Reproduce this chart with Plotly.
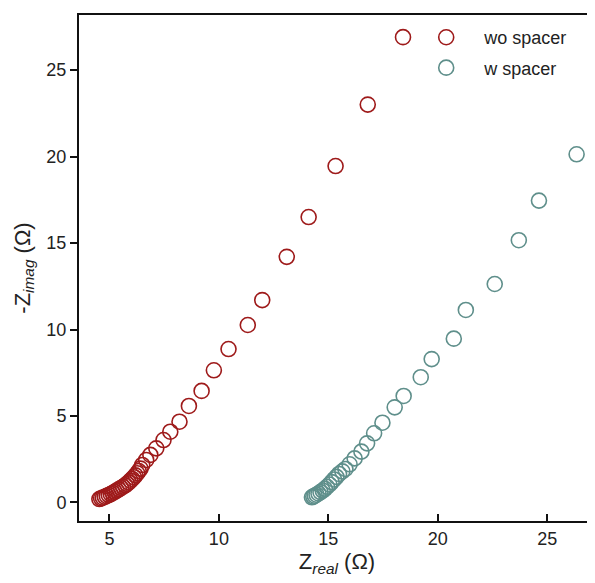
import plotly.graph_objs as go

# wo spacer (red)
wo_real = [4.54, 4.62, 4.70, 4.79, 4.88, 4.97, 5.06, 5.15, 5.24, 5.33, 5.43, 5.53, 5.62,
           5.72, 5.80, 5.88, 5.96, 6.04, 6.12, 6.19, 6.27, 6.34, 6.42, 6.50, 6.68, 6.87,
           7.14, 7.47, 7.78, 8.20, 8.63, 9.21, 9.77, 10.44, 11.32, 11.98, 13.10, 14.10,
           15.33, 16.80, 18.41]
wo_imag = [0.20, 0.24, 0.28, 0.33, 0.38, 0.43, 0.49, 0.55, 0.62, 0.69, 0.76, 0.84, 0.91,
           0.99, 1.07, 1.16, 1.26, 1.36, 1.46, 1.57, 1.69, 1.82, 1.96, 2.17, 2.46, 2.75,
           3.13, 3.61, 4.09, 4.67, 5.58, 6.45, 7.64, 8.87, 10.26, 11.70, 14.20, 16.50,
           19.45, 23.00, 26.90]

# w spacer (teal)
w_real = [14.25, 14.31, 14.38, 14.46, 14.55, 14.64, 14.74, 14.84, 14.94, 15.05, 15.15,
          15.26, 15.37, 15.49, 15.64, 15.78, 15.97, 16.20, 16.51, 16.77, 17.09, 17.47,
          18.03, 18.44, 19.22, 19.72, 20.73, 21.28, 22.60, 23.70, 24.62, 26.34]
w_imag = [0.30, 0.34, 0.39, 0.45, 0.52, 0.60, 0.69, 0.79, 0.91, 1.04, 1.18, 1.33, 1.48,
          1.65, 1.80, 1.94, 2.21, 2.55, 2.94, 3.42, 4.00, 4.61, 5.50, 6.16, 7.24, 8.29,
          9.47, 11.13, 12.63, 15.16, 17.45, 20.13]

x_ticks = [5, 10, 15, 20, 25]
y_ticks = [0, 5, 10, 15, 20, 25]

fig = go.Figure()
fig.add_trace(go.Scatter(
    x=wo_real, y=wo_imag, mode='markers', name='wo spacer', legendgroup='wo',
    marker=dict(symbol='circle-open', size=15, color='#9e1a1a', line=dict(width=1.6))
))
fig.add_trace(go.Scatter(
    x=w_real, y=w_imag, mode='markers', name='w spacer', legendgroup='w',
    marker=dict(symbol='circle-open', size=15, color='#5f8f8b', line=dict(width=1.6))
))

# the page body adds 8px around the figure, so the figure is 8px smaller
axis_font = dict(family="Liberation Sans, Arial, sans-serif", size=18, color="#222222")
fig.update_layout(
    width=587, height=575,
    margin=dict(l=71, r=0, t=7, b=62),
    plot_bgcolor='white', paper_bgcolor='white',
    font=axis_font,
    showlegend=True,
    legend=dict(x=0.638, y=0.992, xanchor='left', yanchor='top', bgcolor='rgba(0,0,0,0)',
                itemwidth=66, font=dict(size=18), tracegroupgap=4, traceorder='grouped'),
    xaxis=dict(
        range=[3.61, 27.18], tickvals=x_ticks, ticks='inside', ticklen=7, tickwidth=2,
        tickcolor='#111111', showline=True, linecolor='#111111', linewidth=2,
        mirror=True, showgrid=False, zeroline=False, automargin=False,
        title=dict(text='Z<sub><i>real</i></sub> (Ω)', standoff=6)
    ),
    yaxis=dict(
        range=[-1.07, 28.18], tickvals=y_ticks, ticks='outside', ticklen=7, tickwidth=2,
        tickcolor='#111111', showline=True, linecolor='#111111', linewidth=2,
        showgrid=False, zeroline=False, automargin=False,
        title=dict(text='-Z<sub><i>imag</i></sub> (Ω)', standoff=10)
    ),
)

fig.write_html("out.html")
